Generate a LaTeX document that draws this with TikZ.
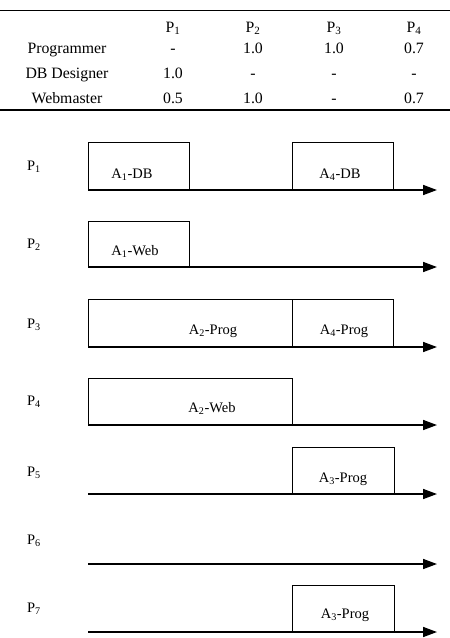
\documentclass[tikz,border=0pt]{standalone}
\usepackage{fontspec}
\setmainfont{Liberation Serif}
\usetikzlibrary{arrows.meta}
\newcommand{\mysub}[1]{\textsubscript{#1}}
\begin{document}
\begin{tikzpicture}[x=1pt,y=-1pt,
  tab/.style={font=\fontsize{15.8}{16}\selectfont, inner sep=0pt, anchor=base},
  plabel/.style={font=\fontsize{14.5}{15}\selectfont, inner sep=0pt, anchor=base},
  alabel/.style={font=\fontsize{14.5}{15}\selectfont, inner sep=0pt, anchor=base},
  taskbox/.style={draw=black, line width=0.9pt},
  axis/.style={line width=1.6pt, -{Triangle[length=14pt,width=10pt]}}]
\useasboundingbox (0,0) rectangle (450,638);
% table
\draw[line width=0.8pt] (0,10) -- (450,10);
\draw[line width=1.5pt] (0,110) -- (450,110);
\node[tab] (h1) at (173,32) {P\mysub{1}};
\node[tab] (h2) at (253,32) {P\mysub{2}};
\node[tab] (h3) at (334,32) {P\mysub{3}};
\node[tab] (h4) at (414,32) {P\mysub{4}};
\node[tab] (r1) at (67,53) {Programmer};
\node[tab] (r2) at (67,78) {DB Designer};
\node[tab] (r3) at (67,103) {Webmaster};
\node[tab] (c11) at (173,53) {-};
\node[tab] (c12) at (253,53) {1.0};
\node[tab] (c13) at (334,53) {1.0};
\node[tab] (c14) at (414,53) {0.7};
\node[tab] (c21) at (173,78) {1.0};
\node[tab] (c22) at (253,78) {-};
\node[tab] (c23) at (334,78) {-};
\node[tab] (c24) at (414,78) {-};
\node[tab] (c31) at (173,103) {0.5};
\node[tab] (c32) at (253,103) {1.0};
\node[tab] (c33) at (334,103) {-};
\node[tab] (c34) at (414,103) {0.7};
% timelines
\foreach \i/\y in {1/190,2/267,3/347,4/425,5/494,6/564,7/632}{
  \coordinate (s\i) at (88,\y);
  \coordinate (e\i) at (437,\y);
}
% boxes
\draw[taskbox] (88,190) rectangle (189,142);
\draw[taskbox] (292,190) rectangle (393,142);
\draw[taskbox] (88,267) rectangle (189,221);
\draw[taskbox] (88,347) rectangle (292,299);
\draw[taskbox] (292,347) rectangle (393,299);
\draw[taskbox] (88,425) rectangle (292,378);
\draw[taskbox] (292,494) rectangle (394,447);
\draw[taskbox] (292,632) rectangle (394,585);
\foreach \i in {1,...,7}{ \draw[axis] (s\i) -- (e\i); }
% process labels
\node[plabel] (p1) at (34,170.5) {P\mysub{1}};
\node[plabel] (p2) at (34,248) {P\mysub{2}};
\node[plabel] (p3) at (34,328) {P\mysub{3}};
\node[plabel] (p4) at (34,405) {P\mysub{4}};
\node[plabel] (p5) at (34,476) {P\mysub{5}};
\node[plabel] (p6) at (34,544) {P\mysub{6}};
\node[plabel] (p7) at (34,612) {P\mysub{7}};
% task labels
\node[alabel] (t1) at (132,178) {A\mysub{1}-DB};
\node[alabel] (t2) at (340,178) {A\mysub{4}-DB};
\node[alabel] (t3) at (135,255) {A\mysub{1}-Web};
\node[alabel] (t4) at (213,334) {A\mysub{2}-Prog};
\node[alabel] (t5) at (344,334) {A\mysub{4}-Prog};
\node[alabel] (t6) at (212,412) {A\mysub{2}-Web};
\node[alabel] (t7) at (343,482) {A\mysub{3}-Prog};
\node[alabel] (t8) at (345,618) {A\mysub{3}-Prog};
\end{tikzpicture}
\end{document}
